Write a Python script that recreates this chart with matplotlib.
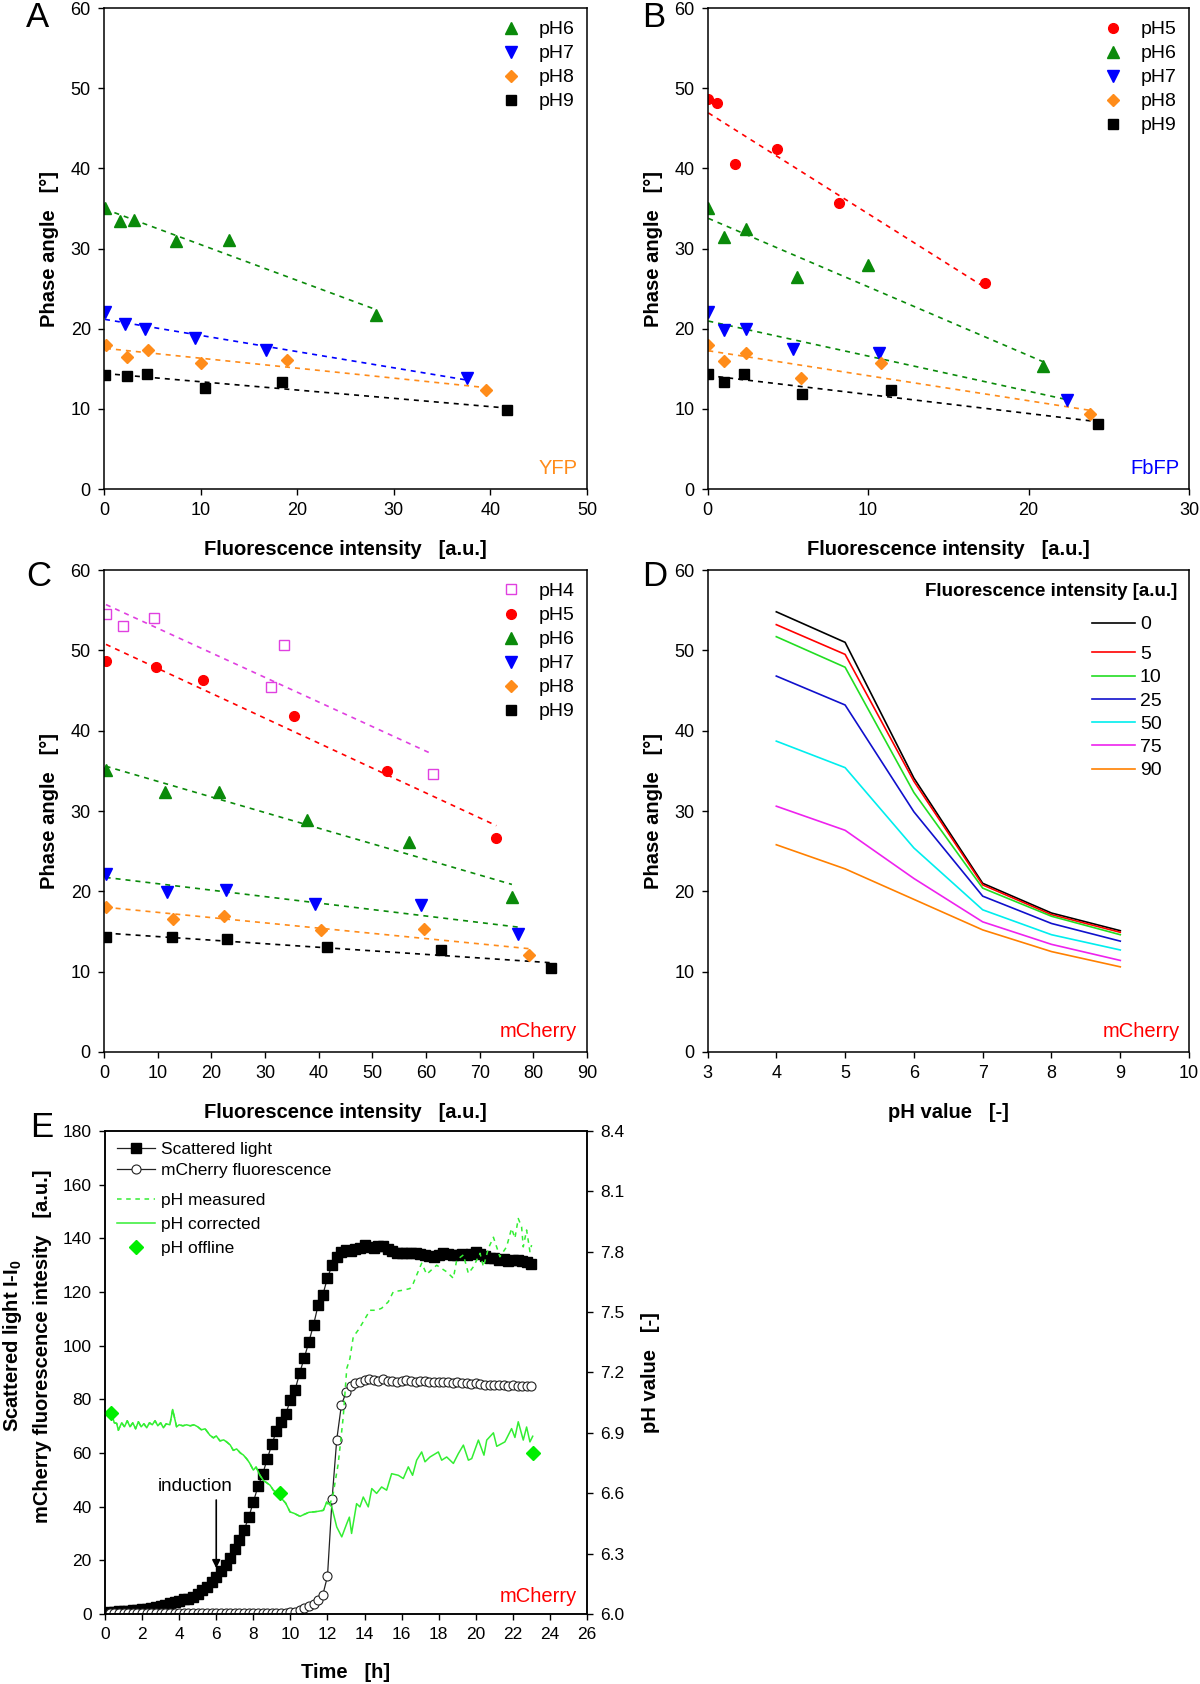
import numpy as np
import matplotlib
matplotlib.use("Agg")
import matplotlib.pyplot as plt

plt.rcParams['font.family'] = ['Liberation Sans', 'DejaVu Sans']
plt.rcParams['mathtext.fontset'] = 'custom'
plt.rcParams['mathtext.rm'] = 'Liberation Sans'
plt.rcParams['mathtext.bf'] = 'Liberation Sans:bold'
plt.rcParams['axes.linewidth'] = 1.1

# colours
GREEN = '#0a8a0a'
BLUE = '#0000ff'
ORANGE = '#ff8c1a'
RED = '#ff0000'
MAGENTA = '#e040e0'
LIME = '#33ee33'

# ---------------- panel A (YFP) ----------------
a_labels = ['pH6', 'pH7', 'pH8', 'pH9']
a_x = [[0.1, 1.66, 3.05, 7.5, 12.9, 28.2],
       [0.1, 2.2, 4.2, 9.4, 16.8, 37.6],
       [0.2, 2.4, 4.5, 10.0, 18.9, 39.5],
       [0.1, 2.4, 4.4, 10.5, 18.4, 41.7]]
a_y = [[35.1, 33.4, 33.6, 31.0, 31.1, 21.7],
       [22.1, 20.6, 20.0, 18.9, 17.4, 13.9],
       [18.0, 16.5, 17.3, 15.7, 16.1, 12.4],
       [14.2, 14.1, 14.4, 12.6, 13.3, 9.9]]
a_fit = [GREEN, BLUE, ORANGE, 'black']

# ---------------- panel B (FbFP) ----------------
b_labels = ['pH5', 'pH6', 'pH7', 'pH8', 'pH9']
b_x = [[0.05, 0.6, 1.7, 4.3, 8.2, 17.3],
       [0.05, 1.0, 2.4, 5.6, 10.0, 20.9],
       [0.05, 1.0, 2.4, 5.3, 10.7, 22.4],
       [0.05, 1.0, 2.4, 5.8, 10.8, 23.8],
       [0.05, 1.0, 2.3, 5.9, 11.4, 24.3]]
b_y = [[48.7, 48.2, 40.6, 42.4, 35.7, 25.7],
       [35.1, 31.5, 32.4, 26.4, 27.9, 15.3],
       [22.1, 19.8, 20.0, 17.5, 17.0, 11.1],
       [18.0, 16.0, 17.0, 13.8, 15.7, 9.4],
       [14.3, 13.3, 14.4, 11.8, 12.4, 8.15]]
b_fit = [RED, GREEN, GREEN, ORANGE, 'black']

# ---------------- panel C (mCherry) ----------------
c_labels = ['pH4', 'pH5', 'pH6', 'pH7', 'pH8', 'pH9']
c_x = [[0.36, 3.6, 9.3, 31.2, 33.6, 61.3],
       [0.36, 9.6, 18.5, 35.4, 52.7, 73.1],
       [0.3, 11.3, 21.4, 37.9, 56.9, 76.0],
       [0.3, 11.8, 22.7, 39.4, 59.1, 77.2],
       [0.3, 12.8, 22.3, 40.4, 59.6, 79.1],
       [0.3, 12.6, 23.0, 41.5, 62.7, 83.3]]
c_y = [[54.5, 53.0, 54.0, 45.4, 50.7, 34.6],
       [48.7, 47.9, 46.3, 41.8, 35.0, 26.6],
       [35.1, 32.4, 32.4, 28.9, 26.1, 19.3],
       [22.1, 19.9, 20.2, 18.4, 18.3, 14.7],
       [18.1, 16.6, 16.9, 15.2, 15.3, 12.1],
       [14.3, 14.3, 14.1, 13.1, 12.7, 10.45]]
c_fit = [MAGENTA, RED, GREEN, GREEN, ORANGE, 'black']

# ---------------- panel D (calibration curves) ----------------
d_ph = [4, 5, 6, 7, 8, 9]
d_levels = ['0', '5', '10', '25', '50', '75', '90']
d_colors = ['black', '#ff0000', '#22dd22', '#1010cc', '#00eeee', '#ee22ee', '#ff8000']
d_angle = [[54.8, 51.0, 34.1, 21.0, 17.3, 15.1],
           [53.2, 49.5, 33.7, 20.8, 17.1, 14.9],
           [51.7, 47.9, 32.3, 20.4, 16.9, 14.6],
           [46.8, 43.2, 29.9, 19.4, 16.0, 13.8],
           [38.7, 35.4, 25.4, 17.7, 14.6, 12.7],
           [30.6, 27.6, 21.6, 16.2, 13.4, 11.4],
           [25.8, 22.8, 19.0, 15.2, 12.5, 10.6]]

# ---------------- panel E (cultivation) ----------------
time_h = [0.25, 0.5, 0.75, 1.0, 1.25, 1.5, 1.75, 2.0,
          2.25, 2.5, 2.75, 3.0, 3.25, 3.5, 3.75, 4.0,
          4.25, 4.5, 4.75, 5.0, 5.25, 5.5, 5.75, 6.0,
          6.25, 6.5, 6.75, 7.0, 7.25, 7.5, 7.75, 8.0,
          8.25, 8.5, 8.75, 9.0, 9.25, 9.5, 9.75, 10.0,
          10.25, 10.5, 10.75, 11.0, 11.25, 11.5, 11.75, 12.0,
          12.25, 12.5, 12.75, 13.0, 13.25, 13.5, 13.75, 14.0,
          14.25, 14.5, 14.75, 15.0, 15.25, 15.5, 15.75, 16.0,
          16.25, 16.5, 16.75, 17.0, 17.25, 17.5, 17.75, 18.0,
          18.25, 18.5, 18.75, 19.0, 19.25, 19.5, 19.75, 20.0,
          20.25, 20.5, 20.75, 21.0, 21.25, 21.5, 21.75, 22.0,
          22.25, 22.5, 22.75, 23.0]
scattered = [0.8, 0.9, 1.0, 1.1, 1.2, 1.4, 1.5, 1.8,
             2.0, 2.2, 2.5, 2.8, 3.3, 4.0, 4.5, 5.0,
             5.4, 5.7, 6.3, 7.5, 8.9, 10.1, 11.8, 13.8,
             16.0, 18.4, 21.0, 24.3, 27.5, 31.2, 36.0, 41.7,
             47.5, 52.0, 57.8, 63.2, 68.3, 71.7, 74.5, 79.8,
             83.5, 89.8, 95.5, 101.5, 107.8, 115.2, 119.0, 125.2,
             130.0, 133.2, 135.0, 135.6, 135.4, 136.0, 136.5, 137.4,
             136.8, 136.2, 137.3, 137.2, 136.0, 135.2, 134.6, 134.4,
             134.7, 134.4, 134.6, 134.0, 133.8, 133.5, 133.1, 133.9,
             134.6, 134.2, 133.8, 133.8, 134.0, 133.8, 134.3, 135.0,
             134.2, 133.4, 132.8, 132.5, 131.9, 132.3, 131.6, 131.9,
             131.8, 131.4, 131.3, 130.5]
fluor = [0.2, 0.2, 0.3, 0.3, 0.3, 0.3, 0.3, 0.3,
         0.3, 0.3, 0.3, 0.3, 0.3, 0.3, 0.3, 0.3,
         0.3, 0.3, 0.3, 0.3, 0.3, 0.3, 0.3, 0.3,
         0.3, 0.3, 0.3, 0.3, 0.3, 0.3, 0.3, 0.3,
         0.3, 0.3, 0.4, 0.4, 0.4, 0.4, 0.5, 0.6,
         0.9, 1.5, 2.1, 2.8, 3.8, 5.3, 7.2, 14.0,
         43.0, 65.0, 77.8, 82.6, 84.8, 86.0, 86.6, 87.2,
         87.4, 87.3, 87.0, 87.5, 87.0, 86.8, 86.6, 86.9,
         87.1, 86.7, 86.5, 86.8, 86.9, 86.6, 86.4, 86.6,
         86.3, 86.5, 86.2, 86.4, 86.0, 86.1, 85.8, 86.0,
         85.6, 85.4, 85.3, 85.5, 85.2, 85.3, 85.1, 85.2,
         85.0, 85.1, 84.9, 85.1]

ph_corr_t = [0.36, 0.5, 0.63, 0.72, 0.9, 1.05, 1.2, 1.35, 1.5, 1.65,
             1.8, 1.95, 2.1, 2.25, 2.4, 2.55, 2.7, 2.85, 3.0, 3.15,
             3.3, 3.5, 3.65, 3.86, 4.0, 4.2, 4.4, 4.6, 4.8, 5.0,
             5.2, 5.4, 5.66, 5.85, 6.0, 6.2, 6.4, 6.56, 6.75, 6.92,
             7.1, 7.3, 7.46, 7.65, 7.8, 8.0, 8.15, 8.35, 8.54, 8.75,
             8.9, 9.08, 9.3, 9.53, 9.75, 9.98, 10.2, 10.52, 10.75, 11.0,
             11.24, 11.5, 11.78, 11.96, 12.1, 12.23, 12.5, 12.77, 13.04, 13.18,
             13.3, 13.57, 13.75, 13.93, 14.2, 14.39, 14.65, 14.92, 15.19, 15.46,
             15.82, 16.09, 16.36, 16.59, 16.81, 17.08, 17.26, 17.53, 17.98, 18.16,
             18.43, 18.79, 19.06, 19.33, 19.6, 19.78, 20.14, 20.44, 20.59, 20.95,
             21.13, 21.57, 21.93, 22.11, 22.29, 22.56, 22.74, 22.92, 23.07]
ph_corr = [6.996, 6.95, 6.947, 6.913, 6.95, 6.93, 6.96, 6.93, 6.95, 6.92,
           6.955, 6.93, 6.945, 6.925, 6.95, 6.94, 6.96, 6.935, 6.95, 6.925,
           6.945, 6.94, 7.016, 6.93, 6.94, 6.935, 6.94, 6.935, 6.94, 6.93,
           6.915, 6.92, 6.888, 6.875, 6.885, 6.86, 6.865, 6.855, 6.84, 6.813,
           6.82, 6.80, 6.79, 6.77, 6.75, 6.715, 6.73, 6.69, 6.664, 6.65,
           6.64, 6.615, 6.60, 6.573, 6.55, 6.507, 6.50, 6.485, 6.495, 6.505,
           6.507, 6.51, 6.515, 6.556, 6.545, 6.532, 6.432, 6.383, 6.449, 6.481,
           6.40, 6.548, 6.532, 6.581, 6.532, 6.623, 6.599, 6.631, 6.615, 6.697,
           6.689, 6.673, 6.731, 6.689, 6.764, 6.805, 6.756, 6.78, 6.805, 6.764,
           6.78, 6.748, 6.797, 6.839, 6.764, 6.772, 6.864, 6.789, 6.864, 6.90,
           6.833, 6.855, 6.921, 6.877, 6.955, 6.864, 6.929, 6.855, 6.883]

# measured pH follows the corrected one until ~12 h, then drifts up
ph_meas_late_t = [12.1, 12.31, 12.58, 12.85, 13.04, 13.21, 13.39, 13.66, 13.93, 14.29,
                  14.65, 14.92, 15.28, 15.55, 16.09, 16.45, 16.63, 16.81, 17.08, 17.35,
                  17.89, 18.43, 18.79, 18.97, 19.33, 19.6, 19.87, 20.23, 20.41, 20.68,
                  20.95, 21.3, 21.66, 21.93, 22.11, 22.29, 22.47, 22.56, 22.74, 22.92,
                  23.01]
ph_meas_late = [6.533, 6.599, 6.747, 6.979, 7.22, 7.269, 7.377, 7.411, 7.452, 7.509,
                7.509, 7.519, 7.551, 7.601, 7.609, 7.617, 7.643, 7.684, 7.743, 7.688,
                7.733, 7.70, 7.668, 7.759, 7.784, 7.692, 7.725, 7.792, 7.725, 7.817,
                7.872, 7.775, 7.824, 7.916, 7.867, 7.965, 7.924, 7.824, 7.908, 7.80,
                7.833]
ph_meas_t = ph_corr_t[:64] + ph_meas_late_t
ph_meas = ph_corr[:64] + ph_meas_late

offline_t = [0.35, 9.45, 23.1]
offline_ph = [7.0, 6.6, 6.8]

# marker style per pH: marker, edge colour, face colour, size
styles = {
    'pH4': ('s', MAGENTA, 'white', 6.5),
    'pH5': ('o', RED, RED, 7),
    'pH6': ('^', GREEN, GREEN, 8.5),
    'pH7': ('v', BLUE, BLUE, 8.5),
    'pH8': ('D', ORANGE, ORANGE, 6),
    'pH9': ('s', 'black', 'black', 6.5),
}

TICK = 13
LAB = 14.5


def style_axis(ax):
    ax.tick_params(direction='out', length=4.5, width=1.0, labelsize=TICK,
                   pad=5, top=False, right=False)


def scatter_panel(ax, xs, ys, labels, fits, xmax, xstep, tag, tagcolor):
    for x, y, lab, fc in zip(xs, ys, labels, fits):
        k, b = np.polyfit(x, y, 1)
        xx = np.array([min(x), max(x)])
        ax.plot(xx, k * xx + b, color=fc, lw=1.2, ls=(0, (3, 3)))
    for x, y, lab in zip(xs, ys, labels):
        m, c, face, ms = styles[lab]
        ax.plot(x, y, ls='none', marker=m, mec=c, mfc=face, ms=ms, mew=1.0,
                label=lab)
    ax.set_xlim(0, xmax)
    ax.set_ylim(0, 60)
    ax.set_xticks(np.arange(0, xmax + 0.1, xstep))
    ax.set_yticks(np.arange(0, 61, 10))
    style_axis(ax)
    ax.set_xlabel('Fluorescence intensity   [a.u.]', fontsize=LAB,
                  fontweight='bold', labelpad=15)
    ax.set_ylabel('Phase angle   [°]', fontsize=LAB, fontweight='bold',
                  labelpad=8)
    ax.legend(loc='upper right', frameon=False, fontsize=14, handlelength=1.0,
              handletextpad=0.9, labelspacing=0.33, borderaxespad=0.25)
    ax.text(0.98, 0.022, tag, transform=ax.transAxes, ha='right',
            va='bottom', color=tagcolor, fontsize=LAB)


fig = plt.figure(figsize=(12, 16.84), dpi=100)

axA = fig.add_axes([0.0867, 0.7096, 0.4025, 0.2856])
scatter_panel(axA, a_x, a_y, a_labels, a_fit, 50, 10, 'YFP', ORANGE)

axB = fig.add_axes([0.5896, 0.7096, 0.4013, 0.2856])
scatter_panel(axB, b_x, b_y, b_labels, b_fit, 30, 10, 'FbFP', BLUE)

axC = fig.add_axes([0.0867, 0.3753, 0.4025, 0.2862])
scatter_panel(axC, c_x, c_y, c_labels, c_fit, 90, 10, 'mCherry', RED)

# panel D
axD = fig.add_axes([0.5896, 0.3753, 0.4013, 0.2862])
d_handles = []
for lev, col, vals in zip(d_levels, d_colors, d_angle):
    ln, = axD.plot(d_ph, vals, color=col, lw=1.2, label=lev)
    d_handles.append(ln)
axD.set_xlim(3, 10)
axD.set_ylim(0, 60)
axD.set_xticks(range(3, 11))
axD.set_yticks(np.arange(0, 61, 10))
style_axis(axD)
axD.set_xlabel('pH value   [-]', fontsize=LAB, fontweight='bold', labelpad=15)
axD.set_ylabel('Phase angle   [°]', fontsize=LAB, fontweight='bold', labelpad=8)
axD.text(0.975, 57.3 / 60, 'Fluorescence intensity [a.u.]', transform=axD.transAxes,
         ha='right', va='center', fontsize=13.5, fontweight='bold')
leg0 = axD.legend(d_handles[:1], d_levels[:1], loc='upper left',
                  bbox_to_anchor=(0.7986, 54.3 / 60), frameon=False, fontsize=14,
                  handlelength=2.2, handletextpad=0.26, borderpad=0,
                  borderaxespad=0)
axD.add_artist(leg0)
axD.legend(d_handles[1:], d_levels[1:], loc='upper left',
           bbox_to_anchor=(0.7986, 50.6 / 60), frameon=False, fontsize=14,
           handlelength=2.2, handletextpad=0.26, labelspacing=0.29,
           borderpad=0, borderaxespad=0)
axD.text(0.98, 0.022, 'mCherry', transform=axD.transAxes, ha='right',
         va='bottom', color=RED, fontsize=LAB)

# panel E
axE = fig.add_axes([0.0875, 0.0416, 0.4017, 0.2868])
axE.plot(time_h, scattered, color='#222222', lw=0.9, marker='s', ms=6.5,
         mfc='black', mec='black', label='Scattered light')
axE.plot(time_h, fluor, color='#222222', lw=0.9, marker='o', ms=6.5,
         mfc='white', mec='#222222', mew=0.8, label='mCherry fluorescence')
axE.set_xlim(0, 26)
axE.set_ylim(0, 180)
axE.set_xticks(range(0, 27, 2))
axE.set_yticks(range(0, 181, 20))
axE.tick_params(direction='out', length=4.5, width=1.0, labelsize=12.5, pad=5)
axE.set_xlabel('Time   [h]', fontsize=LAB, fontweight='bold', labelpad=15)

axE2 = axE.twinx()
axE2.plot(ph_meas_t, ph_meas, color=LIME, lw=1.1, ls=(0, (3, 3)),
          label='pH measured')
axE2.plot(ph_corr_t, ph_corr, color=LIME, lw=1.1, label='pH corrected')
axE2.plot(offline_t, offline_ph, ls='none', marker='D', ms=7.5,
          color='#00ee00', label='pH offline', clip_on=False)
axE2.set_ylim(6.0, 8.4)
axE2.set_yticks(np.arange(6.0, 8.41, 0.3))
axE2.set_yticklabels(['%.1f' % v for v in np.arange(6.0, 8.41, 0.3)])
axE2.tick_params(direction='out', length=4.5, width=1.0, labelsize=12.5, pad=5)
axE2.set_ylabel('pH value   [-]', fontsize=LAB, fontweight='bold', labelpad=12)

h1, l1 = axE.get_legend_handles_labels()
h2, l2 = axE2.get_legend_handles_labels()
legE = axE2.legend(h1, l1, loc='upper left', bbox_to_anchor=(0.025, 0.977),
                   frameon=False, fontsize=12.5, handlelength=2.2,
                   handletextpad=0.35, labelspacing=0.32, borderpad=0,
                   borderaxespad=0)
axE2.add_artist(legE)
axE2.legend(h2, l2, loc='upper left', bbox_to_anchor=(0.025, 0.872),
            frameon=False, fontsize=12.5, handlelength=2.2,
            handletextpad=0.35, labelspacing=0.5, borderpad=0,
            borderaxespad=0)

axE.annotate('', xy=(6.0, 16), xytext=(6.0, 43.5),
             arrowprops=dict(arrowstyle='-|>', color='black', lw=1.2,
                             mutation_scale=12))
axE.text(4.85, 44.5, 'induction', ha='center', va='bottom', fontsize=13.5)
axE.text(25.45, 3.0, 'mCherry', ha='right', va='bottom', color=RED,
         fontsize=LAB)

fig.text(13 / 1200, 0.2007, r'Scattered light I-I$_\mathbf{0}$', rotation=90,
         ha='center', va='center', fontsize=LAB, fontweight='bold')
fig.text(43 / 1200, 0.2007, 'mCherry fluorescence intesity   [a.u.]',
         rotation=90, ha='center', va='center', fontsize=LAB,
         fontweight='bold')

# panel letters
for letter, x, y in [('A', 26, 1), ('B', 642, 1), ('C', 26, 560),
                     ('D', 642, 560), ('E', 30, 1111)]:
    fig.text(x / 1200, 1 - y / 1684, letter, fontsize=25, ha='left', va='top')

fig.savefig('out.png', dpi=100)
